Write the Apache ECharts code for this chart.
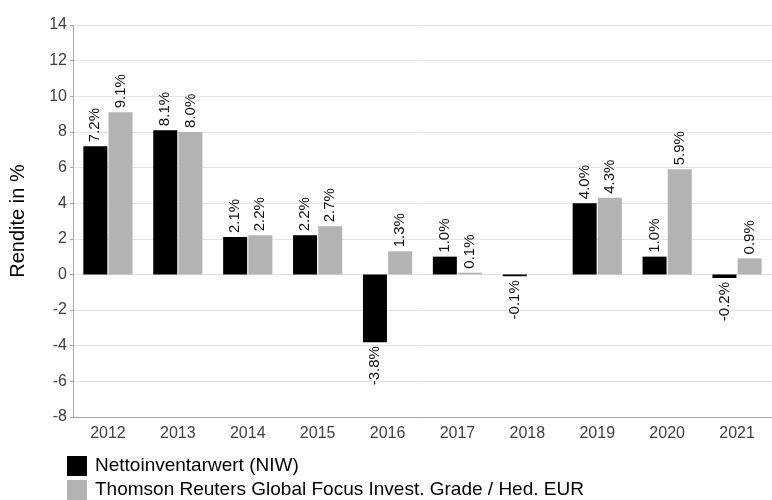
<!DOCTYPE html>
<html>
<head>
<meta charset="utf-8">
<script src="https://cdn.jsdelivr.net/npm/echarts@6/dist/echarts.min.js"></script>
<style>
  html, body { margin: 0; padding: 0; background: #fff; }
  #container { width: 772px; height: 500px; }
</style>
</head>
<body>
<div id="container"></div>
<script>
// Jahre und Renditen
var years = ['2012', '2013', '2014', '2015', '2016', '2017', '2018', '2019', '2020', '2021'];
var niw = [7.2, 8.1, 2.1, 2.2, -3.8, 1.0, -0.1, 4.0, 1.0, -0.2];
var benchmark = [9.1, 8.0, 2.2, 2.7, 1.3, 0.1, null, 4.3, 5.9, 0.9];
var seriesNames = ['Nettoinventarwert (NIW)', 'Thomson Reuters Global Focus Invest. Grade / Hed. EUR'];

// Beschriftung je nach Vorzeichen oben oder unten
function withLabels(values) {
    return values.map(function(v) {
        if (v === null) return null;
        return {
            value: v,
            label: v < 0
                ? {position: 'bottom', align: 'right'}
                : {position: 'top', align: 'left'}
        };
    });
}

var barLabel = {
    show: true,
    rotate: 90,
    verticalAlign: 'middle',
    distance: 4,
    fontFamily: 'Liberation Sans',
    fontSize: 15,
    color: '#111',
    formatter: function(p) { return p.value.toFixed(1) + '%'; }
};

// eine Legende pro Zeile
function legendRow(name, top) {
    return {
        orient: 'vertical',
        left: 62,
        top: top,
        itemWidth: 20,
        itemHeight: 20,
        icon: 'rect',
        textStyle: {fontSize: 19, color: '#000', padding: [0, 0, 0, 3]},
        data: [name]
    };
}

var dom = document.getElementById('container');
var myChart = echarts.init(dom);
var option = {
    animation: false,
    textStyle: {fontFamily: 'Liberation Sans'},
    grid: {left: 72, width: 705, top: 25, height: 392},
    legend: [legendRow(seriesNames[0], 451), legendRow(seriesNames[1], 475)],
    xAxis: {
        type: 'category',
        data: years,
        axisLine: {onZero: false, lineStyle: {color: '#aaa'}},
        axisTick: {show: false},
        axisLabel: {fontSize: 16, color: '#404040', margin: 9}
    },
    yAxis: {
        type: 'value',
        min: -8,
        max: 14,
        interval: 2,
        name: 'Rendite in %',
        nameLocation: 'middle',
        nameGap: 45,
        nameTextStyle: {fontSize: 20, color: '#000'},
        axisLine: {show: true, lineStyle: {color: '#aaa'}},
        axisTick: {show: true, length: 3, lineStyle: {color: '#aaa'}},
        axisLabel: {fontSize: 16, color: '#404040', margin: 6},
        splitLine: {lineStyle: {color: '#e4e4e4'}}
    },
    series: [
        {
            name: seriesNames[0],
            type: 'bar',
            data: withLabels(niw),
            barWidth: 24,
            barGap: '5%',
            itemStyle: {color: '#000'},
            label: barLabel
        },
        {
            name: seriesNames[1],
            type: 'bar',
            data: withLabels(benchmark),
            barWidth: 24,
            itemStyle: {color: '#b3b3b3'},
            label: barLabel
        }
    ]
};
myChart.setOption(option, true);
</script>
</body>
</html>
